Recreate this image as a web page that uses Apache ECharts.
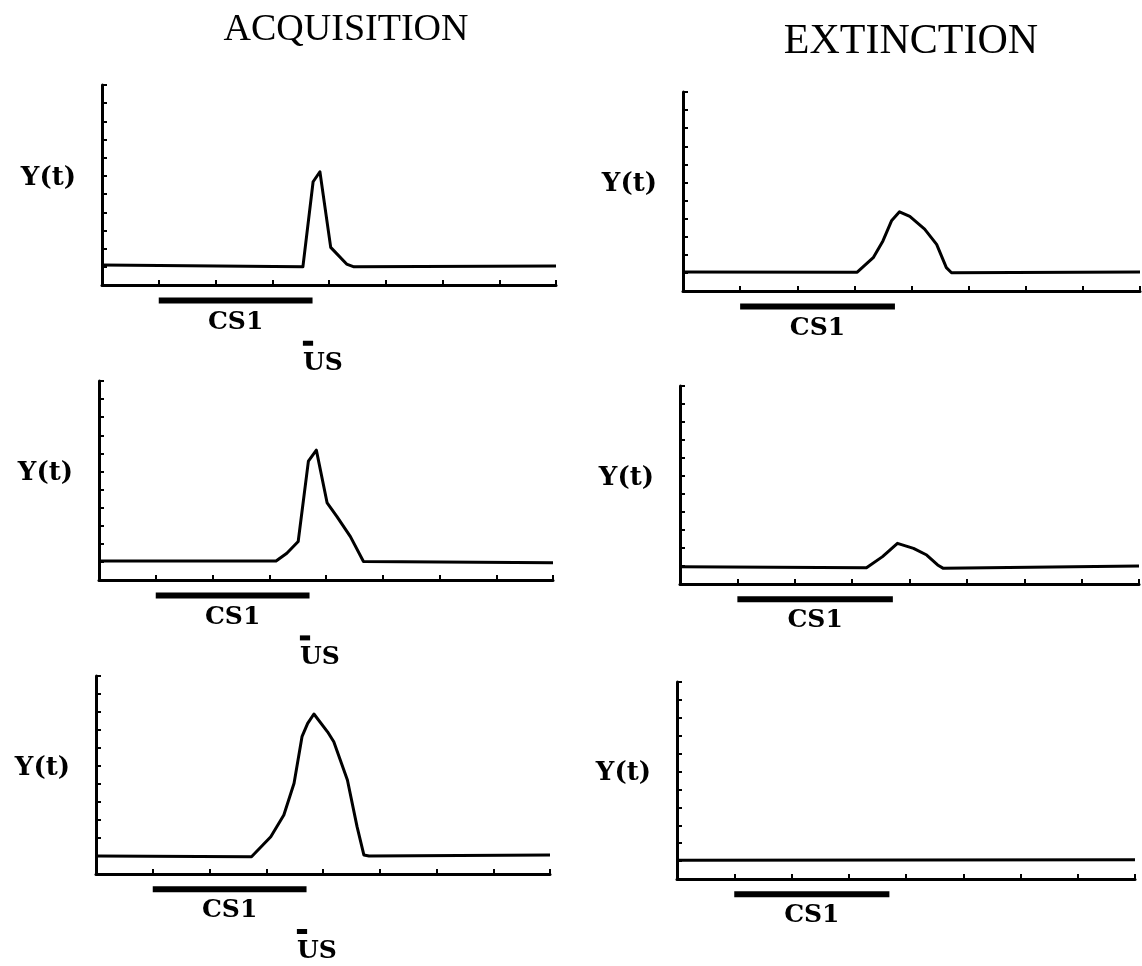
<!DOCTYPE html>
<html>
<head>
<meta charset="utf-8">
<script src="https://cdn.jsdelivr.net/npm/echarts@6/dist/echarts.min.js"></script>
<style>
  html, body { margin: 0; padding: 0; background: #fff; }
  #chart { width: 1142px; height: 966px; }
</style>
</head>
<body>
<div id="chart"></div>
<script>
// time axis runs 0..8, response Y(t) axis runs 0..11 (tick units)
var accTime1 = [0, 3.54, 3.72, 3.84, 4.03, 4.31, 4.44, 8];
var accY1    = [1.1, 1.0, 5.68, 6.23, 2.07, 1.15, 1.0, 1.05];

var accTime2 = [0, 3.12, 3.31, 3.51, 3.69, 3.83, 4.02, 4.19, 4.43, 4.66, 8];
var accY2    = [1.05, 1.05, 1.48, 2.13, 6.57, 7.18, 4.26, 3.52, 2.4, 1.02, 0.95];

var accTime3 = [0, 2.74, 3.08, 3.31, 3.49, 3.63, 3.73, 3.84, 4.08, 4.19, 4.43, 4.6, 4.72, 4.81, 8];
var accY3    = [1.0, 0.96, 2.07, 3.28, 5.04, 7.63, 8.37, 8.89, 7.9, 7.35, 5.22, 2.63, 1.06, 1.0, 1.05];

var extTime1 = [0, 3.05, 3.33, 3.5, 3.65, 3.79, 3.97, 4.23, 4.44, 4.61, 4.7, 8];
var extY1    = [1.05, 1.04, 1.84, 2.77, 3.88, 4.38, 4.12, 3.42, 2.58, 1.29, 1.01, 1.05];

var extTime2 = [0, 3.25, 3.53, 3.79, 4.07, 4.3, 4.49, 4.59, 8];
var extY2    = [0.96, 0.9, 1.52, 2.26, 1.98, 1.61, 1.06, 0.87, 1.0];

var extTime3 = [0, 8];
var extY3    = [1.05, 1.08];

// stimulus timing (same time units)
var cs1Span = [1.0, 3.71];
var usSpan  = [3.54, 3.72];

var chart = echarts.init(document.getElementById('chart'));

var labelFont = 'DejaVu Serif';

function zip(xs, ys) {
    return xs.map(function (x, i) { return [x, ys[i]]; });
}

var panels = [
    {grid: {left: 102, top: 85, width: 454, height: 200}, t: accTime1, y: accY1, us: true},
    {grid: {left: 99, top: 381, width: 454, height: 199}, t: accTime2, y: accY2, us: true},
    {grid: {left: 96, top: 676, width: 454, height: 198}, t: accTime3, y: accY3, us: true},
    {grid: {left: 683, top: 92, width: 457, height: 199}, t: extTime1, y: extY1, us: false},
    {grid: {left: 680, top: 386, width: 459, height: 198}, t: extTime2, y: extY2, us: false},
    {grid: {left: 677, top: 682, width: 458, height: 197}, t: extTime3, y: extY3, us: false}
];

var grids = [], xAxes = [], yAxes = [], series = [];

function textMark(i, point, text, align) {
    return {
        type: 'scatter', xAxisIndex: i, yAxisIndex: i, clip: false, silent: true,
        data: [point], symbolSize: 0,
        itemStyle: {color: '#000'},
        label: {show: true, position: 'inside', align: align, formatter: text,
            color: '#000', opacity: 1, textBorderWidth: 0,
            fontFamily: labelFont, fontWeight: 'bold', fontSize: 25}
    };
}

panels.forEach(function (p, i) {
    grids.push(p.grid);
    xAxes.push({
        type: 'value', gridIndex: i, min: 0, max: 8, interval: 1,
        axisLine: {lineStyle: {color: '#000', width: 3}},
        axisTick: {inside: true, length: 5, lineStyle: {color: '#000', width: 2}},
        axisLabel: {show: false},
        splitLine: {show: false}
    });
    yAxes.push({
        type: 'value', gridIndex: i, min: 0, max: 11, interval: 1,
        name: 'Y(t)', nameLocation: 'middle', nameRotate: 0, nameGap: 26,
        nameTextStyle: {color: '#000', fontFamily: labelFont, fontWeight: 'bold', fontSize: 26,
            verticalAlign: 'bottom', lineHeight: 14},
        axisLine: {lineStyle: {color: '#000', width: 3}},
        axisTick: {inside: true, length: 5, lineStyle: {color: '#000', width: 2}},
        axisLabel: {show: false},
        splitLine: {show: false}
    });

    series.push({
        type: 'line', xAxisIndex: i, yAxisIndex: i,
        data: zip(p.t, p.y), symbol: 'none', smooth: false,
        lineStyle: {color: '#000', width: 3, join: 'round'}
    });
    // CS1 bar under the time axis
    series.push({
        type: 'line', xAxisIndex: i, yAxisIndex: i, clip: false,
        data: [[cs1Span[0], -0.85], [cs1Span[1], -0.85]], symbol: 'none',
        lineStyle: {color: '#000', width: 6, cap: 'butt'}
    });
    series.push(textMark(i, [(cs1Span[0] + cs1Span[1]) / 2, -2.05], 'CS1', 'center'));
    if (p.us) {
        series.push({
            type: 'line', xAxisIndex: i, yAxisIndex: i, clip: false,
            data: [[usSpan[0], -3.2], [usSpan[1], -3.2]], symbol: 'none',
            lineStyle: {color: '#000', width: 5, cap: 'butt'}
        });
        series.push(textMark(i, [usSpan[0], -4.3], 'US', 'left'));
    }
});

option = {
    animation: false,
    backgroundColor: '#fff',
    graphic: [
        {type: 'text', x: 346, y: 30, style: {text: 'ACQUISITION', textAlign: 'center', textVerticalAlign: 'middle',
            font: '38px "Liberation Serif"', fill: '#000'}},
        {type: 'text', x: 911, y: 42, style: {text: 'EXTINCTION', textAlign: 'center', textVerticalAlign: 'middle',
            font: '42px "Liberation Serif"', fill: '#000'}}
    ],
    grid: grids,
    xAxis: xAxes,
    yAxis: yAxes,
    series: series
};

chart.setOption(option);
</script>
</body>
</html>
